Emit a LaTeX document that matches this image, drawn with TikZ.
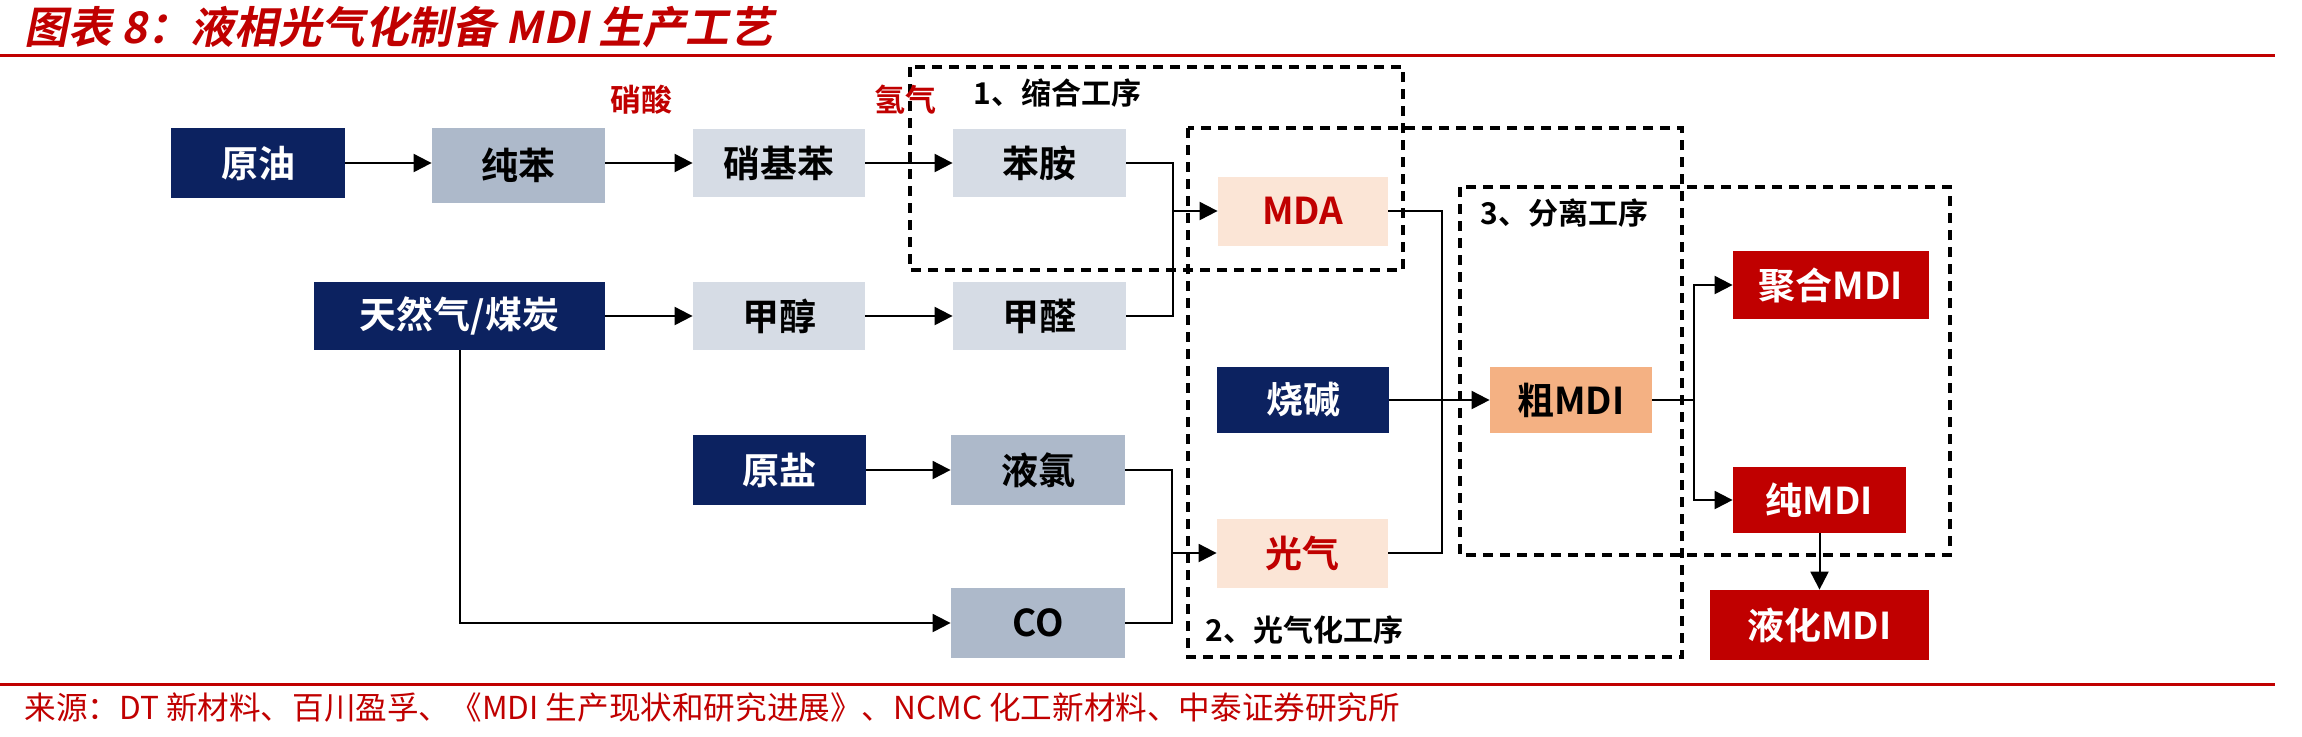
\documentclass[tikz,border=0pt]{standalone}
\usepackage{fontspec}
\setmainfont{Noto Sans CJK SC}[BoldFont={Noto Sans CJK SC Bold},SlantedFont={Noto Sans CJK SC},SlantedFeatures={FakeSlant=0.2},BoldSlantedFont={Noto Sans CJK SC Bold},BoldSlantedFeatures={FakeSlant=0.2}]
\usetikzlibrary{arrows.meta}
\definecolor{navy}{HTML}{0C2260}
\definecolor{gblue}{HTML}{ADB9CA}
\definecolor{lblue}{HTML}{D6DCE5}
\definecolor{peach}{HTML}{FBE5D6}
\definecolor{orng}{HTML}{F4B183}
\definecolor{dred}{HTML}{C00000}
\begin{document}
\begin{tikzpicture}[x=0.5pt,y=-0.5pt,
  box/.style={rectangle,inner sep=0pt,font=\fontsize{18.5}{21}\selectfont\bfseries},
  nv/.style={box,fill=navy,text=white},
  gb/.style={box,fill=gblue,text=black},
  lb/.style={box,fill=lblue,text=black},
  pc/.style={box,fill=peach,text=dred},
  og/.style={box,fill=orng,text=black},
  rd/.style={box,fill=dred,text=white},
  conn/.style={line width=1pt},
  arr/.style={conn,-{Triangle[length=9pt,width=9pt]}},
  dbox/.style={draw,line width=1.6pt,dash pattern=on 5pt off 3.5pt},
  lab/.style={anchor=west,inner sep=0pt,font=\fontsize{15}{17}\selectfont\bfseries},
  rlab/.style={inner sep=0pt,text=dred,font=\fontsize{15.5}{17}\selectfont\bfseries}]
\useasboundingbox (0,0) rectangle (2302,736);
% header and footer
\node[anchor=west,inner sep=0pt,text=dred,font=\fontsize{21.8}{24}\selectfont\bfseries\slshape] (title) at (24,27) {图表 8：液相光气化制备 MDI 生产工艺};
\draw[dred,line width=1.5pt] (0,55) -- (2275,55);
\draw[dred,line width=1.5pt] (0,684) -- (2275,684);
\node[anchor=west,inner sep=0pt,text=dred,font=\fontsize{15.8}{18}\selectfont] (src) at (24,707) {来源：DT 新材料、百川盈孚、《MDI 生产现状和研究进展》、NCMC 化工新材料、中泰证券研究所};
% dashed process boxes
\draw[dbox] (910,67) rectangle (1403,270);
\draw[dbox] (1188,128) rectangle (1682,657);
\draw[dbox] (1460,187) rectangle (1950,555);
\node[lab] (l1) at (973,93) {1、缩合工序};
\node[lab] (l2) at (1205,630) {2、光气化工序};
\node[lab] (l3) at (1480,213) {3、分离工序};
\node[rlab] (hno3) at (641,100) {硝酸};
\node[rlab] (h2) at (905,100) {氢气};
% boxes
\node[nv,minimum width=87pt,minimum height=35pt] (yuanyou) at (258,163) {原油};
\node[gb,minimum width=86.5pt,minimum height=37.5pt] (chunben) at (518.5,165.5) {纯苯};
\node[lb,minimum width=86pt,minimum height=34pt] (xijiben) at (779,163) {硝基苯};
\node[lb,minimum width=86.5pt,minimum height=34pt] (benan) at (1039.5,163) {苯胺};
\node[nv,minimum width=145.5pt,minimum height=34pt] (trq) at (459.5,316) {天然气/煤炭};
\node[lb,minimum width=86pt,minimum height=34pt] (jiachun) at (779,316) {甲醇};
\node[lb,minimum width=86.5pt,minimum height=34pt] (jiaquan) at (1039.5,316) {甲醛};
\node[pc,minimum width=85pt,minimum height=34.5pt] (mda) at (1303,211) {MDA};
\node[nv,minimum width=86pt,minimum height=33pt] (shaojian) at (1303,400) {烧碱};
\node[nv,minimum width=86.5pt,minimum height=35pt] (yuanyan) at (779.5,470) {原盐};
\node[gb,minimum width=87pt,minimum height=35pt] (yelv) at (1038,470) {液氯};
\node[pc,minimum width=85.5pt,minimum height=34.5pt] (guangqi) at (1302.5,553) {光气};
\node[gb,minimum width=87pt,minimum height=35pt] (co) at (1038,623) {CO};
\node[og,minimum width=81pt,minimum height=33pt] (cumdi) at (1571,400) {粗MDI};
\node[rd,minimum width=98pt,minimum height=34pt] (juhe) at (1831,285) {聚合MDI};
\node[rd,minimum width=86.5pt,minimum height=33pt] (chunmdi) at (1819.5,500) {纯MDI};
\node[rd,minimum width=109.5pt,minimum height=35pt] (yehua) at (1819.5,625) {液化MDI};
% junctions
\coordinate (j1) at (1173,211);
\coordinate (j2) at (1172,553);
\coordinate (j3) at (1442,400);
\coordinate (j4) at (1694,400);
% connectors
\draw[arr] (yuanyou.east) -- (yuanyou.east -| chunben.west);
\draw[arr] (yuanyou.east -| chunben.east) -- (xijiben.west);
\draw[arr] (xijiben.east) -- (benan.west);
\draw[arr] (trq.east) -- (jiachun.west);
\draw[arr] (jiachun.east) -- (jiaquan.west);
\draw[conn] (benan.east) -| (j1) |- (jiaquan.east);
\draw[arr] (j1) -- (mda.west);
\draw[arr] (yuanyan.east) -- (yelv.west);
\draw[arr] (trq.south) |- (co.west);
\draw[conn] (yelv.east) -| (j2) |- (co.east);
\draw[arr] (j2) -- (guangqi.west);
\draw[conn] (mda.east) -| (j3) |- (guangqi.east);
\draw[arr] (shaojian.east) -- (cumdi.west);
\draw[conn] (cumdi.east) -- (j4);
\draw[arr] (j4) |- (juhe.west);
\draw[arr] (j4) |- (chunmdi.west);
\draw[arr] (chunmdi.south) -- (yehua.north);
\end{tikzpicture}
\end{document}
